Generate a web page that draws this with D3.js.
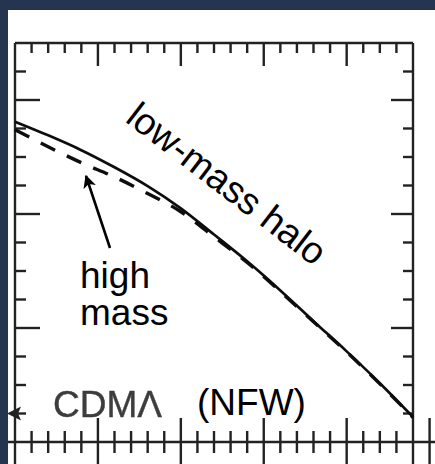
<!DOCTYPE html>
<html><head><meta charset="utf-8">
<script src="https://cdn.jsdelivr.net/npm/d3@7"></script>
<style>html,body{margin:0;padding:0;background:#fff;} svg{display:block;}</style>
</head><body>
<script>
// ---- data (log r vs log rho, arbitrary units) ----
const logR = [-2.0, -1.6, -1.2, -0.8, -0.4, 0.0, 0.4, 0.8, 1.2, 1.6, 2.0, 2.4, 2.8];
const lowMassHalo = [2.81, 2.69, 2.56, 2.41, 2.245, 2.05, 1.82, 1.585, 1.33, 1.06, 0.795, 0.516, 0.22];
const highMassHalo = [2.74, 2.59, 2.45, 2.325, 2.18, 2.02, 1.80, 1.575, 1.32, 1.055, 0.79, 0.51, 0.215];
const xMajorTicks = [-2, -1, 0, 1, 2, 3];
const yMajorTicks = [0, 1, 2, 3];
const labels = {low: "low-mass halo", high: ["high", "mass"], model: "CDMΛ", profile: "(NFW)"};

const W = 435, H = 464;
const svg = d3.select("body").append("svg").attr("width", W).attr("height", H);
svg.append("rect").attr("width", W).attr("height", H).attr("fill", "#253450");
svg.append("rect").attr("x", 8).attr("y", 10).attr("width", W - 8).attr("height", H - 10).attr("fill", "#fff");

const defs = svg.append("defs");
defs.append("filter").attr("id", "soft").append("feGaussianBlur").attr("stdDeviation", 0.55);
defs.append("filter").attr("id", "soft2").append("feGaussianBlur").attr("stdDeviation", 0.75);

const x = d3.scaleLinear().domain([-2, 2.8]).range([15, 413]);
const y = d3.scaleLinear().domain([0, 3.5]).range([442, 43]);

const xMinor = d3.range(0, 26).map(i => +(-2 + i * 0.2).toFixed(2));
const yMinor = d3.range(0, 15).map(i => i * 0.25);
const isMajX = v => xMajorTicks.some(m => Math.abs(m - v) < 1e-6);
const isMajY = v => yMajorTicks.some(m => Math.abs(m - v) < 1e-6);

const ax = svg.append("g").attr("stroke", "#222").attr("stroke-width", 2.4).attr("filter", "url(#soft)").attr("fill", "none");
// frame
ax.append("line").attr("x1", x(-2)).attr("x2", x(2.8)).attr("y1", y(3.5)).attr("y2", y(3.5));
ax.append("line").attr("x1", x(-2)).attr("x2", x(-2)).attr("y1", y(3.5)).attr("y2", H);
ax.append("line").attr("x1", x(2.8)).attr("x2", x(2.8)).attr("y1", y(3.5)).attr("y2", H);
ax.append("line").attr("x1", 8).attr("x2", W).attr("y1", y(0)).attr("y2", y(0));
// top ticks (inward)
xMinor.filter(v => v > -2 && v < 2.8).forEach(v => {
  const L = isMajX(v) ? 23 : 10;
  ax.append("line").attr("x1", x(v)).attr("x2", x(v)).attr("y1", y(3.5)).attr("y2", y(3.5) + L);
});
// bottom ticks (crossing)
xMinor.filter(v => v > -2).forEach(v => {
  const L = isMajX(v) ? 24 : 11;
  if (Math.abs(v - 2.8) < 1e-6) return;
  ax.append("line").attr("x1", x(v)).attr("x2", x(v)).attr("y1", y(0) - L).attr("y2", y(0) + L);
});
// left / right ticks (inward)
yMinor.filter(v => v > 0 && v < 3.5).forEach(v => {
  const maj = isMajY(v);
  ax.append("line").attr("x1", x(-2)).attr("x2", x(-2) + (maj ? 25 : 11)).attr("y1", y(v)).attr("y2", y(v));
  ax.append("line").attr("x1", x(2.8)).attr("x2", x(2.8) - (maj ? 22 : 10)).attr("y1", y(v)).attr("y2", y(v));
});
// small arrow mark on the left axis
svg.append("path").attr("filter", "url(#soft)").attr("fill", "#222")
  .attr("d", `M${x(-2) - 8},${y(0.25)} L${x(-2) + 6},${y(0.25) - 7} L${x(-2) + 3},${y(0.25)} L${x(-2) + 6},${y(0.25) + 7} Z`);

// curves
const pts = (ys) => logR.map((r, i) => [r, ys[i]]);
const line = d3.line().x(d => x(d[0])).y(d => y(d[1])).curve(d3.curveMonotoneX);
const cg = svg.append("g").attr("filter", "url(#soft)").attr("fill", "none").attr("stroke", "#111");
cg.append("path").attr("d", line(pts(highMassHalo))).attr("stroke-width", 3.4).attr("stroke-dasharray", "16,13");
cg.append("path").attr("d", line(pts(lowMassHalo))).attr("stroke-width", 2.7);

// arrow
defs.append("marker").attr("id", "ah").attr("viewBox", "0 0 10 10").attr("refX", 9).attr("refY", 5)
  .attr("markerWidth", 5.5).attr("markerHeight", 5).attr("orient", "auto-start-reverse")
  .append("path").attr("d", "M0,0 L10,5 L0,10 L2.5,5 Z").attr("fill", "#000");
svg.append("line").attr("x1", 110).attr("y1", 248).attr("x2", 86).attr("y2", 176)
  .attr("stroke", "#000").attr("stroke-width", 2.6).attr("marker-end", "url(#ah)");

// text
const tf = "'Liberation Sans', Arial, Helvetica, sans-serif";
svg.append("text").attr("transform", "translate(124,121) rotate(37.5)")
  .attr("font-family", tf).attr("font-size", 37.5).attr("fill", "#000").text(labels.low);
svg.append("text").attr("x", 80).attr("y", 288).attr("font-family", tf).attr("font-size", 37).attr("fill", "#000").text(labels.high[0]);
svg.append("text").attr("x", 80).attr("y", 325).attr("font-family", tf).attr("font-size", 37).attr("fill", "#000").text(labels.high[1]);
svg.append("text").attr("x", 53).attr("y", 417).attr("font-family", tf).attr("font-size", 37).attr("fill", "#3c3c3c")
  .attr("stroke", "#3c3c3c").attr("stroke-width", 0.4)
  .attr("filter", "url(#soft2)").text(labels.model);
svg.append("text").attr("x", 197).attr("y", 415).attr("font-family", tf).attr("font-size", 37).attr("fill", "#000").text(labels.profile);
</script>
</body></html>
